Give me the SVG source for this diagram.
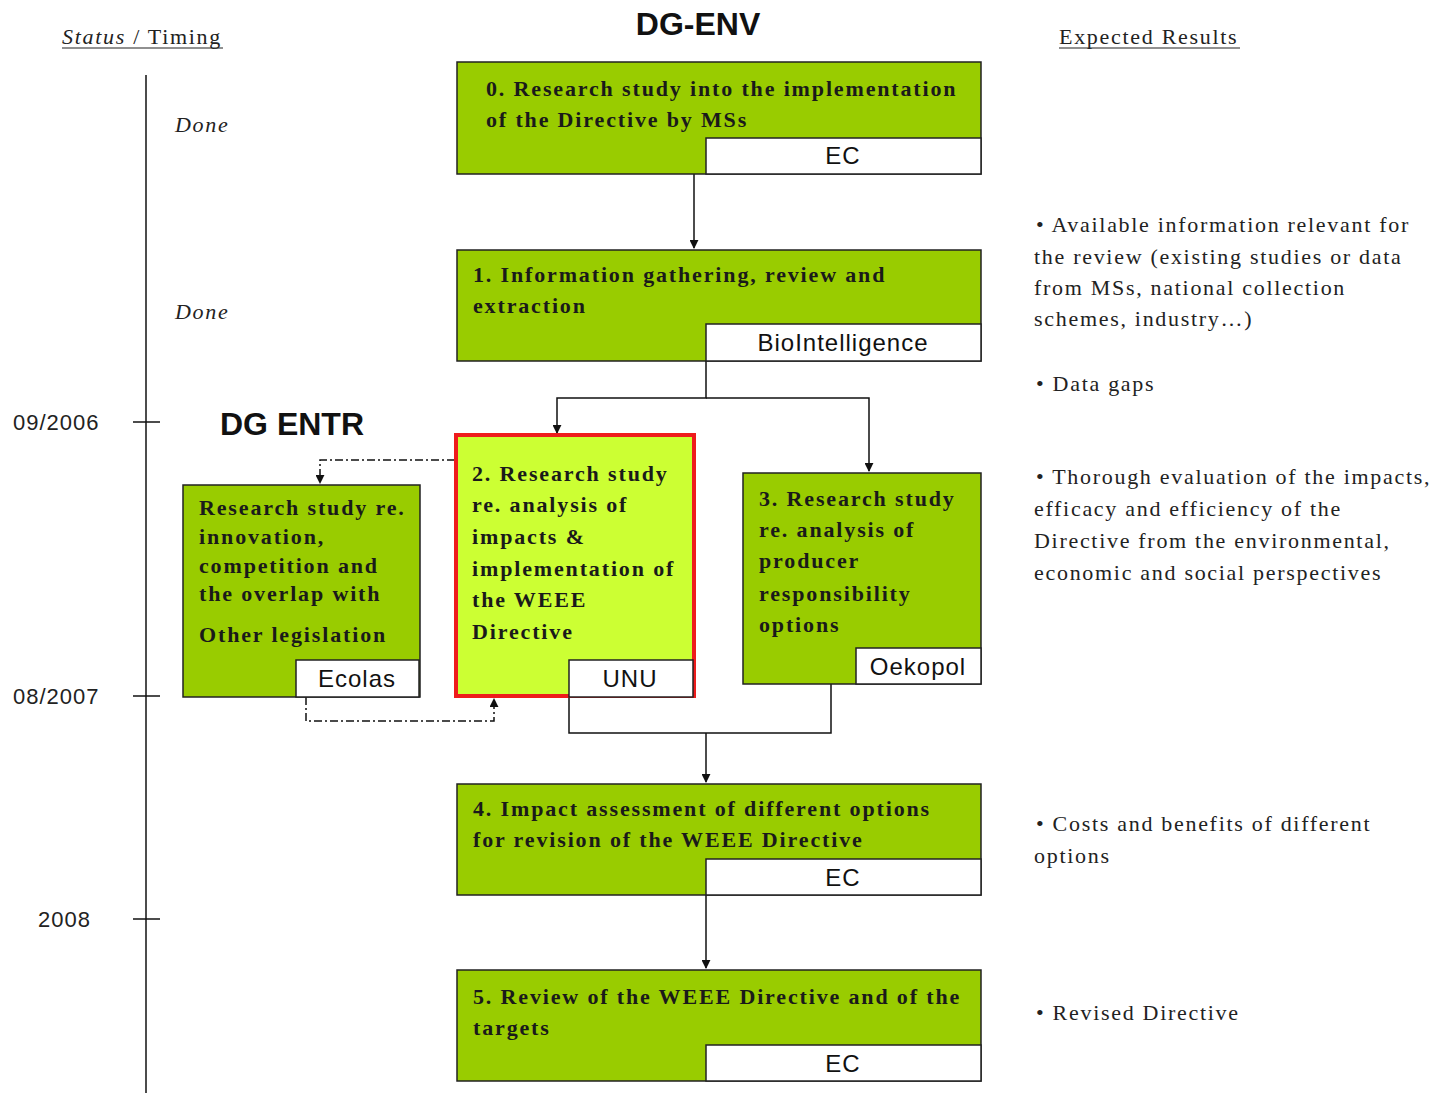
<svg xmlns="http://www.w3.org/2000/svg" width="1435" height="1093" viewBox="0 0 1435 1093">
<defs>
<style>
.box{fill:#99cc00;stroke:#222;stroke-width:1.5}
.hl{fill:#ccff33;stroke:#ee1c1c;stroke-width:4}
.lbl{fill:#fff;stroke:#222;stroke-width:1.5}
.bt{font-family:"Liberation Serif",serif;font-weight:bold;font-size:22px;fill:#1a1a1a;letter-spacing:1.85px}
.lt{font-family:"Liberation Sans",sans-serif;font-size:24px;fill:#111;text-anchor:middle;letter-spacing:1px}
.rt{font-family:"Liberation Serif",serif;font-size:22px;fill:#222;letter-spacing:1.7px}
.hd{font-family:"Liberation Sans",sans-serif;font-weight:bold;font-size:32px;fill:#111}
.tl{font-family:"Liberation Sans",sans-serif;font-size:22px;fill:#222;letter-spacing:1px}
.ln{stroke:#111;stroke-width:1.5;fill:none}
.dd{stroke:#111;stroke-width:1.5;fill:none;stroke-dasharray:8 3 2 3}
</style>
<marker id="ah" viewBox="0 0 10 10" refX="9" refY="5" markerWidth="9" markerHeight="9" markerUnits="userSpaceOnUse" orient="auto"><path d="M0,0 L10,5 L0,10 z" fill="#111"/></marker>
</defs>
<rect width="1435" height="1093" fill="#fff"/>

<g id="headers">
<text x="698" y="35" class="hd" text-anchor="middle" font-size="33">DG-ENV</text>
<text x="220" y="435" class="hd" font-size="31">DG ENTR</text>
<text x="62" y="44" class="rt" letter-spacing="2"><tspan font-style="italic">Status</tspan> / Timing</text>
<line x1="62" y1="48" x2="223" y2="48" stroke="#222" stroke-width="1.2"/>
<text x="1059" y="44" class="rt" letter-spacing="1.6">Expected Results</text>
<line x1="1059" y1="48" x2="1240" y2="48" stroke="#222" stroke-width="1.2"/>
</g>

<g id="timeline">
<line x1="146" y1="75" x2="146" y2="1093" class="ln"/>
<line x1="133" y1="422" x2="160" y2="422" class="ln"/>
<line x1="133" y1="696" x2="160" y2="696" class="ln"/>
<line x1="133" y1="919" x2="160" y2="919" class="ln"/>
<text x="13" y="430" class="tl">09/2006</text>
<text x="13" y="704" class="tl">08/2007</text>
<text x="38" y="927" class="tl">2008</text>
<text x="175" y="132" class="rt" font-style="italic">Done</text>
<text x="175" y="319" class="rt" font-style="italic">Done</text>
</g>

<g id="connectors">
<line x1="694" y1="174" x2="694" y2="248" class="ln" marker-end="url(#ah)"/>
<polyline points="706,361 706,398 557,398 557,433" class="ln" marker-end="url(#ah)"/>
<polyline points="706,398 869,398 869,471" class="ln" marker-end="url(#ah)"/>
<polyline points="455,460 320,460 320,483" class="dd" marker-end="url(#ah)"/>
<polyline points="306,697 306,721 494,721 494,699" class="dd" marker-end="url(#ah)"/>
<polyline points="569,697 569,733 831,733 831,684" class="ln"/>
<line x1="706" y1="733" x2="706" y2="782" class="ln" marker-end="url(#ah)"/>
<line x1="706" y1="895" x2="706" y2="968" class="ln" marker-end="url(#ah)"/>
</g>

<g id="node0">
<rect x="457" y="62" width="524" height="112" class="box"/>
<text class="bt"><tspan x="486" y="96">0. Research study into the implementation</tspan><tspan x="486" y="127">of the Directive by MSs</tspan></text>
<rect x="706" y="138" width="275" height="36" class="lbl"/>
<text x="843" y="164" class="lt">EC</text>
</g>

<g id="node1">
<rect x="457" y="250" width="524" height="111" class="box"/>
<text class="bt"><tspan x="473" y="282">1. Information gathering, review and</tspan><tspan x="473" y="313">extraction</tspan></text>
<rect x="706" y="324" width="275" height="37" class="lbl"/>
<text x="843" y="351" class="lt">BioIntelligence</text>
</g>

<g id="node2">
<rect x="456" y="435" width="238" height="261" class="hl"/>
<text class="bt"><tspan x="472" y="481">2. Research study</tspan><tspan x="472" y="512">re. analysis of</tspan><tspan x="472" y="544">impacts &amp;</tspan><tspan x="472" y="576">implementation of</tspan><tspan x="472" y="607">the WEEE</tspan><tspan x="472" y="639">Directive</tspan></text>
<rect x="569" y="660" width="124" height="37" class="lbl"/>
<text x="630" y="687" class="lt">UNU</text>
</g>

<g id="node3">
<rect x="743" y="473" width="238" height="211" class="box"/>
<text class="bt"><tspan x="759" y="506">3. Research study</tspan><tspan x="759" y="537">re. analysis of</tspan><tspan x="759" y="568">producer</tspan><tspan x="759" y="601">responsibility</tspan><tspan x="759" y="632">options</tspan></text>
<rect x="856" y="648" width="125" height="36" class="lbl"/>
<text x="918" y="675" class="lt">Oekopol</text>
</g>

<g id="nodeEntr">
<rect x="183" y="485" width="237" height="212" class="box"/>
<text class="bt"><tspan x="199" y="515">Research study re.</tspan><tspan x="199" y="544">innovation,</tspan><tspan x="199" y="573">competition and</tspan><tspan x="199" y="601">the overlap with</tspan><tspan x="199" y="642">Other legislation</tspan></text>
<rect x="296" y="660" width="123" height="37" class="lbl"/>
<text x="357" y="687" class="lt">Ecolas</text>
</g>

<g id="node4">
<rect x="457" y="784" width="524" height="111" class="box"/>
<text class="bt"><tspan x="473" y="816">4. Impact assessment of different options</tspan><tspan x="473" y="847">for revision of the WEEE Directive</tspan></text>
<rect x="706" y="859" width="275" height="36" class="lbl"/>
<text x="843" y="886" class="lt">EC</text>
</g>

<g id="node5">
<rect x="457" y="970" width="524" height="111" class="box"/>
<text class="bt"><tspan x="473" y="1004">5. Review of the WEEE Directive and of the</tspan><tspan x="473" y="1035">targets</tspan></text>
<rect x="706" y="1045" width="275" height="36" class="lbl"/>
<text x="843" y="1072" class="lt">EC</text>
</g>

<g id="results">
<text class="rt"><tspan x="1036" y="232">• Available information relevant for</tspan><tspan x="1034" y="264">the review (existing studies or data</tspan><tspan x="1034" y="295">from MSs, national collection</tspan><tspan x="1034" y="326">schemes, industry…)</tspan></text>
<text x="1036" y="391" class="rt">• Data gaps</text>
<text class="rt"><tspan x="1036" y="484">• Thorough evaluation of the impacts,</tspan><tspan x="1034" y="516">efficacy and efficiency of the</tspan><tspan x="1034" y="548">Directive from the environmental,</tspan><tspan x="1034" y="580">economic and social perspectives</tspan></text>
<text class="rt"><tspan x="1036" y="831">• Costs and benefits of different</tspan><tspan x="1034" y="863">options</tspan></text>
<text x="1036" y="1020" class="rt">• Revised Directive</text>
</g>
</svg>
